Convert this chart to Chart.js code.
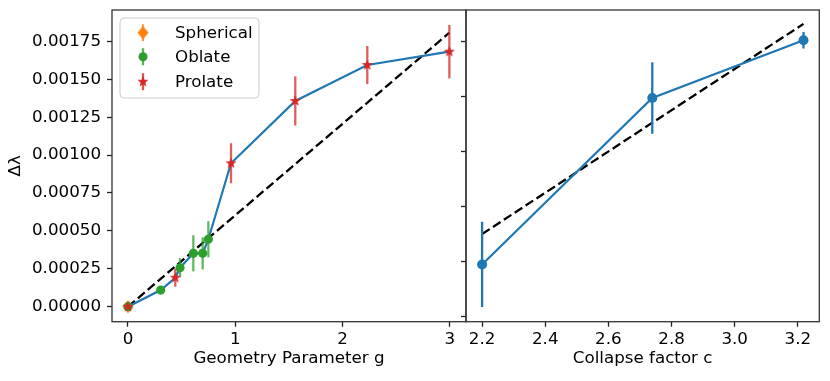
<!DOCTYPE html>
<html>
<head>
<meta charset="utf-8">
<script src="https://cdn.jsdelivr.net/npm/chart.js@4"></script>
<style>
  body { margin: 0; background: #fff; }
  #wrap { position: relative; width: 830px; height: 381px; }
  canvas { position: absolute; top: 0; }
  #left { left: 0; }
  #right { left: 460px; }
</style>
</head>
<body>
<div id="wrap">
  <canvas id="left" width="467" height="381"></canvas>
  <canvas id="right" width="370" height="381"></canvas>
</div>
<script>
// --- data
// left panel: delta lambda vs geometry parameter g
const sphG = [0];
const sphD = [0];
const sphE = [0.00001];

const oblG = [0, 0.305, 0.485, 0.609, 0.696, 0.749];
const oblD = [0, 0.00011, 0.000257, 0.000352, 0.000352, 0.000445];
const oblE = [0.00001, 0.00001, 0.000063, 0.000119, 0.000106, 0.000119];

const proG = [0, 0.441, 0.96, 1.559, 2.23, 2.995];
const proD = [0, 0.000191, 0.000946, 0.001357, 0.001594, 0.001682];
const proE = [0.00001, 0.000059, 0.000132, 0.000162, 0.000126, 0.000176];

const fitG = [0, 2.995];
const fitD = [0, 0.001807];

const leftXTicks = [0, 1, 2, 3];
const leftYTicks = [0, 0.00025, 0.0005, 0.00075, 0.001, 0.00125, 0.0015, 0.00175];

// right panel: delta lambda vs collapse factor c
const colC = [2.2, 2.739, 3.218];
const colD = [0.00038, 0.00159, 0.00201];
const colE = [0.00031, 0.00026, 0.00006];

const fitC = [2.2, 3.218];
const fitCD = [0.000601, 0.002129];

const rightXTicks = [2.2, 2.4, 2.6, 2.8, 3.0, 3.2];
const rightYTicks = [0, 0.0004, 0.0008, 0.0012, 0.0016, 0.002];

const legendNames = ['Spherical', 'Oblate', 'Prolate'];

const BLUE = '#1f77b4', ORANGE = '#ff7f0e', GREEN = '#2ca02c', RED = '#d62728';

Chart.defaults.font.family = 'DejaVu Sans';
Chart.defaults.font.size = 16.7;
Chart.defaults.color = '#000';

function pts(xs, ys) {
    return xs.map(function (x, i) { return { x: x, y: ys[i] }; });
}

// filled star marker like matplotlib '*'
function starMarker(r) {
    const c = document.createElement('canvas');
    c.width = c.height = Math.ceil(r * 2 + 2);
    const g = c.getContext('2d');
    const cx = c.width / 2, cy = c.height / 2;
    g.beginPath();
    for (let i = 0; i < 10; i++) {
        const rad = i % 2 == 0 ? r : r * 0.42;
        const a = -Math.PI / 2 + i * Math.PI / 5;
        g.lineTo(cx + rad * Math.cos(a), cy + rad * Math.sin(a));
    }
    g.closePath();
    g.fillStyle = RED;
    g.fill();
    return c;
}

// thin diamond marker
function diamondMarker(w, h) {
    const c = document.createElement('canvas');
    c.width = Math.ceil(w + 2);
    c.height = Math.ceil(h + 2);
    const g = c.getContext('2d');
    const cx = c.width / 2, cy = c.height / 2;
    g.beginPath();
    g.moveTo(cx, cy - h / 2);
    g.lineTo(cx + w / 2, cy);
    g.lineTo(cx, cy + h / 2);
    g.lineTo(cx - w / 2, cy);
    g.closePath();
    g.fillStyle = ORANGE;
    g.fill();
    return c;
}

const starImg = starMarker(5.8);
const diamondImg = diamondMarker(11, 13);

// vertical error bars, drawn just under each scatter dataset
const errorBars = {
    id: 'errorBars',
    beforeDatasetDraw: function (chart, args) {
        const ds = chart.data.datasets[args.index];
        if (!ds.errors) return;
        const xs = chart.scales.x, ys = chart.scales.y;
        const ctx = chart.ctx;
        ctx.save();
        ctx.strokeStyle = ds.errColor;
        ctx.lineWidth = 2.3;
        ds.data.forEach(function (p, i) {
            const x = xs.getPixelForValue(p.x);
            ctx.beginPath();
            ctx.moveTo(x, ys.getPixelForValue(p.y - ds.errors[i]));
            ctx.lineTo(x, ys.getPixelForValue(p.y + ds.errors[i]));
            ctx.stroke();
        });
        ctx.restore();
    }
};

// full box round the axes
const frame = {
    id: 'frame',
    afterDraw: function (chart) {
        const a = chart.chartArea, ctx = chart.ctx;
        ctx.save();
        ctx.strokeStyle = '#333';
        ctx.lineWidth = 1.3;
        ctx.strokeRect(a.left, a.top, a.right - a.left, a.bottom - a.top);
        ctx.restore();
    }
};

// legend box in the upper left of the left panel
const boxLegend = {
    id: 'boxLegend',
    afterDraw: function (chart) {
        const ctx = chart.ctx;
        const x0 = 120, y0 = 18, w = 139, h = 80;
        ctx.save();
        ctx.beginPath();
        ctx.roundRect(x0, y0, w, h, 4);
        ctx.fillStyle = 'rgba(255,255,255,0.8)';
        ctx.fill();
        ctx.strokeStyle = '#cccccc';
        ctx.lineWidth = 1;
        ctx.stroke();
        const colors = [ORANGE, GREEN, RED];
        const rows = [32.7, 56.7, 81.7];
        const mx = 143;
        legendNames.forEach(function (name, i) {
            const y = rows[i];
            ctx.strokeStyle = colors[i];
            ctx.globalAlpha = 0.8;
            ctx.lineWidth = 2.3;
            ctx.beginPath();
            ctx.moveTo(mx, y - 8.5);
            ctx.lineTo(mx, y + 8.5);
            ctx.stroke();
            ctx.globalAlpha = 1;
            if (i == 0) {
                ctx.drawImage(diamondImg, mx - diamondImg.width / 2, y - diamondImg.height / 2);
            } else if (i == 1) {
                ctx.beginPath();
                ctx.arc(mx, y, 4.5, 0, Math.PI * 2);
                ctx.fillStyle = GREEN;
                ctx.fill();
            } else {
                ctx.drawImage(starImg, mx - starImg.width / 2, y - starImg.height / 2);
            }
            ctx.fillStyle = '#000';
            ctx.font = '16.7px "DejaVu Sans"';
            ctx.textBaseline = 'middle';
            ctx.fillText(name, 175, y + 1);
        });
        ctx.restore();
    }
};

function tickGrid() {
    return {
        display: true,
        drawOnChartArea: false,
        drawTicks: true,
        tickLength: 5,
        tickWidth: 1.3,
        tickColor: '#222'
    };
}

// build the blue line through every point of the left panel, sorted by g
const allLeft = pts(sphG, sphD).concat(pts(oblG.slice(1), oblD.slice(1)), pts(proG.slice(1), proD.slice(1)));
allLeft.sort(function (a, b) { return a.x - b.x; });

new Chart(document.getElementById('left'), {
    type: 'scatter',
    data: {
        datasets: [
            {
                label: 'Prolate', data: pts(proG, proD), errors: proE, errColor: 'rgba(214,39,40,0.75)',
                pointStyle: starImg, showLine: false
            },
            {
                label: 'Oblate', data: pts(oblG, oblD), errors: oblE, errColor: 'rgba(44,160,44,0.75)',
                pointStyle: 'circle', pointRadius: 4.6, backgroundColor: GREEN, borderWidth: 0, showLine: false
            },
            {
                label: 'Spherical', data: pts(sphG, sphD), errors: sphE, errColor: 'rgba(255,127,14,0.75)',
                pointStyle: diamondImg, showLine: false
            },
            {
                label: 'all', data: allLeft, showLine: true, pointRadius: 0,
                borderColor: BLUE, borderWidth: 2.2
            },
            {
                label: 'fit', data: pts(fitG, fitD), showLine: true, pointRadius: 0,
                borderColor: '#000', borderWidth: 2.3, borderDash: [9, 4]
            }
        ]
    },
    options: {
        responsive: false,
        animation: false,
        devicePixelRatio: 1,
        layout: { autoPadding: false, padding: { top: 10, right: 1, left: 0, bottom: 0 } },
        plugins: { legend: { display: false }, tooltip: { enabled: false } },
        scales: {
            x: {
                type: 'linear', min: -0.149, max: 3.15,
                grid: tickGrid(), border: { display: false },
                afterBuildTicks: function (s) { s.ticks = leftXTicks.map(function (v) { return { value: v }; }); },
                afterFit: function (s) { s.height = 59.3; s.paddingLeft = 0; s.paddingRight = 0; },
                ticks: { padding: 3, callback: function (v) { return String(v); } },
                title: { display: true, text: 'Geometry Parameter g', padding: { top: 0, bottom: 12 } }
            },
            y: {
                type: 'linear', min: -0.0000989, max: 0.001957,
                grid: tickGrid(), border: { display: false },
                afterBuildTicks: function (s) { s.ticks = leftYTicks.map(function (v) { return { value: v }; }); },
                afterFit: function (s) { s.width = 112; s.paddingTop = 0; s.paddingBottom = 0; },
                ticks: { padding: 6, callback: function (v) { return v.toFixed(5); } },
                title: { display: true, text: 'Δλ', padding: { top: 6, bottom: 0 } }
            }
        }
    },
    plugins: [errorBars, frame, boxLegend]
});

new Chart(document.getElementById('right'), {
    type: 'scatter',
    data: {
        datasets: [
            {
                label: 'collapse', data: pts(colC, colD), errors: colE, errColor: BLUE,
                showLine: true, borderColor: BLUE, borderWidth: 2.2,
                pointStyle: 'circle', pointRadius: 5, backgroundColor: BLUE, pointBorderWidth: 0
            },
            {
                label: 'fit', data: pts(fitC, fitCD), showLine: true, pointRadius: 0,
                borderColor: '#000', borderWidth: 2.3, borderDash: [9, 4]
            }
        ]
    },
    options: {
        responsive: false,
        animation: false,
        devicePixelRatio: 1,
        layout: { autoPadding: false, padding: { top: 10, right: 10.7, left: 0, bottom: 0 } },
        plugins: { legend: { display: false }, tooltip: { enabled: false } },
        scales: {
            x: {
                type: 'linear', min: 2.149, max: 3.268,
                grid: tickGrid(), border: { display: false },
                afterBuildTicks: function (s) { s.ticks = rightXTicks.map(function (v) { return { value: v }; }); },
                afterFit: function (s) { s.height = 59.3; s.paddingLeft = 0; s.paddingRight = 0; },
                ticks: { padding: 3, callback: function (v) { return v.toFixed(1); } },
                title: { display: true, text: 'Collapse factor c', padding: { top: 0, bottom: 12 } }
            },
            y: {
                type: 'linear', min: -0.0000364, max: 0.00223,
                grid: tickGrid(), border: { display: false },
                afterBuildTicks: function (s) { s.ticks = rightYTicks.map(function (v) { return { value: v }; }); },
                afterFit: function (s) { s.width = 6; s.paddingTop = 0; s.paddingBottom = 0; },
                ticks: { display: false }
            }
        }
    },
    plugins: [errorBars, frame]
});
</script>
</body>
</html>
